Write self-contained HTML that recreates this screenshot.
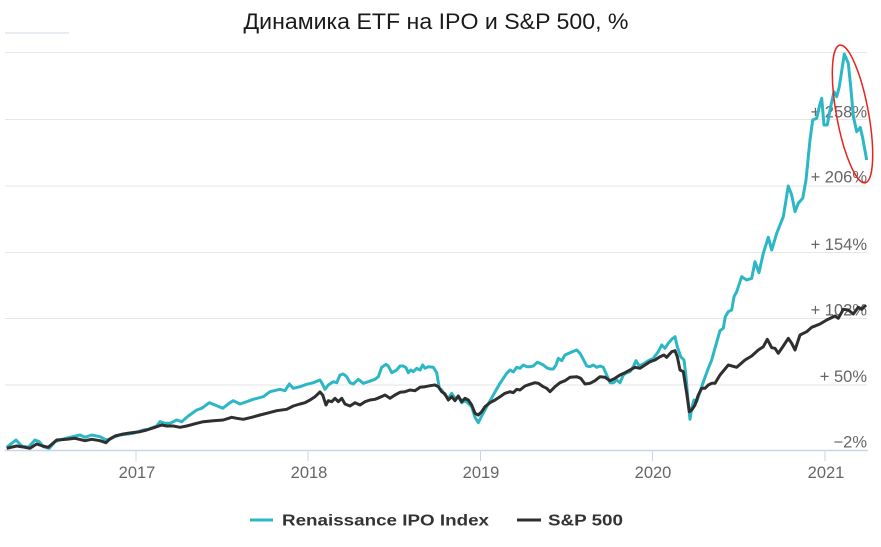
<!DOCTYPE html>
<html><head><meta charset="utf-8"><style>
html,body{margin:0;padding:0;background:#fff;}
svg{display:block;}
</style></head><body>
<svg width="881" height="547" viewBox="0 0 881 547" xmlns="http://www.w3.org/2000/svg" font-family="Liberation Sans, DejaVu Sans, sans-serif">
<rect width="881" height="547" fill="#fff"/>
<text x="436" y="29" text-anchor="middle" font-size="22" fill="#1a1a1a" textLength="385" lengthAdjust="spacingAndGlyphs">Динамика ETF на IPO и S&amp;P 500, %</text>
<line x1="5" y1="33" x2="69" y2="33" stroke="#dfe6f2" stroke-width="1.5"/>
<g stroke="#e6e6e6" stroke-width="1">
<line x1="5" y1="52.5" x2="867" y2="52.5"/>
<line x1="5" y1="119.5" x2="867" y2="119.5"/>
<line x1="5" y1="186" x2="867" y2="186"/>
<line x1="5" y1="252.5" x2="867" y2="252.5"/>
<line x1="5" y1="318.5" x2="867" y2="318.5"/>
<line x1="5" y1="385" x2="867" y2="385"/>
</g>
<line x1="5" y1="450.5" x2="868" y2="450.5" stroke="#ccd6eb" stroke-width="1.5"/>
<g stroke="#ccd6eb" stroke-width="1">
<line x1="136" y1="451" x2="136" y2="461"/>
<line x1="308" y1="451" x2="308" y2="461"/>
<line x1="480.5" y1="451" x2="480.5" y2="461"/>
<line x1="652.5" y1="451" x2="652.5" y2="461"/>
<line x1="825" y1="451" x2="825" y2="461"/>
</g>
<g font-size="16.5" fill="#666" text-anchor="middle">
<text x="137" y="478">2017</text>
<text x="309" y="478">2018</text>
<text x="481" y="478">2019</text>
<text x="653" y="478">2020</text>
<text x="826" y="478">2021</text>
</g>
<g font-size="16.5" fill="#666" text-anchor="end">
<text x="867" y="117.7">+ 258%</text>
<text x="867" y="182.7">+ 206%</text>
<text x="867" y="250">+ 154%</text>
<text x="867" y="315.3">+ 102%</text>
<text x="867" y="382">+ 50%</text>
<text x="867" y="447.7">−2%</text>
</g>
<polyline fill="none" stroke="#2db7c6" stroke-width="3" stroke-linejoin="round" points="
6.7,447.3 16,440 21.7,446 28.3,447.3 35,440 39.3,441.7 43.3,446.7 49.3,448.3 55,441.7 60,440 70,437.3 80,435 85,437.3 91.7,435 100,436.7 105,439.3 108.3,440 115,436.7 120,435 128.3,434 133.3,433.3 143.3,430 148.3,429.3 156.7,426 160,421.7 165,423.3 170,423.3 176.7,420 181.7,421.7 188.3,416 196.7,410 201.7,408.3 209.3,402.7 215,405 222.7,408.3 230,402.7 233.3,400.7 240,404 246.7,401.7 253.3,399.3 263.3,396.7 270,391.7 280,389.3 285,390.7 289.3,384 293.3,388.3 300,386.7
306.7,384.3 313.3,382.7 320,380 321.7,382.7 325,389.3 328.3,385 333.3,381.7 336.7,382.7 340,375 343.3,374 346.7,376.7 350,382.7 353.3,384 358.3,379.3 363.3,383.3 368.3,381.7 375,379.3 378.3,376.7 381.7,367.3 386,364.3 388.3,366 391.7,372.7 396.7,370 400,366 403.3,366 406,367.7 408.3,372.7 410.7,370 413.3,371.7 416.7,368.3 420,370 422.7,365 425,368.3 428.3,366.7 433.3,367.3 436.7,372.7 439.3,388.3 441.7,390 445,395 448.3,398.3 451.7,393.3 455,398.3 458.3,396.7 461.7,402.7 465,400.7 468.3,403.3 471.7,406.7 475,417.3 478.3,422.7 481.7,416 486.7,406.7 493.3,395 500,383.3 506.7,373.3 510,370 513.3,372 516.7,367.3 520,368.3 523.3,365 526.7,366.7 530,366.7 533.3,366 537.3,362.3 540,363.3 543.3,365 546.7,367.7 550,369 553.3,369 556,365 558.3,358.3 561.7,360.7 565,355 570,352.7 576.7,350 580,353.3
583.3,359.3 586.7,366 590,366.7 593.3,365 596.7,367.3 600,366 603.3,367.3 606.7,375 610,382.7 613.3,382.7 616.7,380 620,382.7 623.3,375 626.7,372.7 630,371.7 633.3,366.7 636,360.7 639.3,366 643.3,364 648.3,360.7 653.3,358.3 658.3,351.7 661.7,345 665,348.3 668.3,343.3 671.7,339.3 675,336.7 677.3,346.7 680.7,356.7 684,360 686,376.7 688.3,403.3 690,419.3 691.7,408.3 694,400 696.7,401.7 700,391.7 704,380 708.3,368.3 711.7,360 714,351.7 717.3,340 720,330.7 723.3,328.3 725.3,316.7 728.3,311.7 731.7,310 734,296.7 736.7,291.7 740,281.7
741.7,276.7 746.7,280 751.7,278.3 755,261.7 759,272.7 763.3,253.3 768.3,237.3 771.7,250 776.7,233.3 783.3,216.7 788.3,186 791.7,195 795,211.7 798.3,203.3 802.7,198.3 806,180 810,140 812.7,120 816.7,118.3 819.3,106.7 821.7,98.3 824,125 827.3,125 830,110 834,91.7 836.7,96.7 839.3,86.7 844.3,54 848.3,63.3 850.7,86.7 853.3,116 856.7,131.7 860.3,127.5 862.7,138 866.7,160"/>
<polyline fill="none" stroke="#2f2f2f" stroke-width="3" stroke-linejoin="round" points="
6.7,448.3 16.7,446 25,447.3 30,448.3 36.7,444 42.7,446 48.3,447.3 56.7,440 66.7,439.3 75,438.3 85,440.7 91.7,439.3 100,440.7 106,442.7 109.3,439.3 115,436 123.3,434 131.7,432.7 140,431.7 146.7,430 155,427.3 161.7,425 166.7,426 173.3,426 180,427.3 186.7,426 196.7,423.3 203.3,421.7 213.3,420.7 223.3,420 231.7,417.3 236.7,418.3 243.3,419.3 251.7,417.3 260,415 266.7,413.3 276.7,410.7 286.7,409.3 293.3,406 300,404
305,402.7 310,400 315,396.7 320,392 322.7,395 326,405 328.3,400.7 331.7,401.7 335,398.3 338.3,401.7 341.7,398.3 345,404 350,406 355,402.7 360,405 365,401.7 370,400 375,399.3 380,397.3 385,395 390,398.3 395,395 400,392.3 405,391.7 410,390 415,390.7 420,387.3 425,386.7 430,385.7 435,385 438.3,386.7 441.7,391.7 445,394 448.3,400 451.7,396.7 455,400.7 458.3,396 461.7,401.7 465,398.3 468.3,400 471.7,405 475,413.3 478.3,415 481.7,411.7 485,406.7 490,402.7 495,400 500,396.7 505,393.3 510,391.7 513.3,392.7 516.7,389.3 520,390 525,386 530,384.3 535,382.7 538.3,383.3 543.3,386.7 546.7,388.3 550,391.7 555,386.7 560,382.7
565,380.7 570,377.3 576.7,376.7 580.7,378.3 585,384 590,383.3 595,380.7 600,376.7 605,377.3 610,380.7 615,378.3 620,375 625,372.7 630,370 635,367.3 640,368.3 645,365 650,361.7 655,360 660,356.7 664,355 666.7,357.3 671.7,351.7 675,350.7 677.3,356.7 680,370 683.3,371.7 686.7,393.3 689.3,411.7 691.7,410 695,405 698.3,395 701.7,388.3 705,388.3 708.3,385 711.7,383.3 715,383.3 720,375 728.3,365 736.7,367.3 745,360 751.7,356 758.3,350 763.3,346.7 767.3,339.3 771.7,347.7 775,348.3 778.3,353.3 783.3,346 788.3,338.3 791.7,343.3 795,350 800,335 806.7,331.7 811.7,327.3 820,324 826.7,320 835,316 838.3,318.3 843.3,309.3 848.3,310 853.3,314 858.3,307.3 861.7,309.3 866,305"/>
<ellipse cx="852.5" cy="114" rx="16" ry="70" transform="rotate(-10.4 852.5 114)" fill="none" stroke="#e8231d" stroke-width="1.5"/>
<line x1="250" y1="520" x2="273" y2="520" stroke="#2db7c6" stroke-width="3"/>
<text x="282" y="525.5" font-size="15.5" font-weight="bold" fill="#333" textLength="207" lengthAdjust="spacingAndGlyphs">Renaissance IPO Index</text>
<line x1="517" y1="520" x2="541" y2="520" stroke="#2f2f2f" stroke-width="3"/>
<text x="548" y="525.5" font-size="15.5" font-weight="bold" fill="#333" textLength="75" lengthAdjust="spacingAndGlyphs">S&amp;P 500</text>
</svg>
</body></html>
